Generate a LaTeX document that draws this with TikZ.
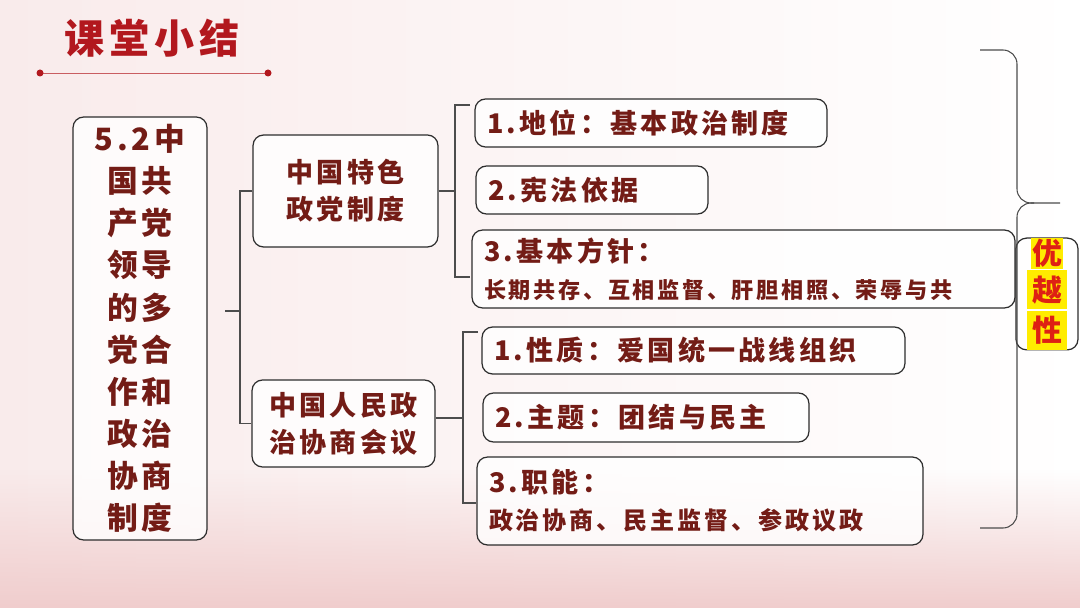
\documentclass[tikz,border=0pt]{standalone}
\usepackage{fontspec}
\newfontfamily\cjk[LetterSpace=12]{Noto Sans CJK SC}
\usetikzlibrary{positioning,fadings}
\definecolor{maroon}{RGB}{115,28,22}
\definecolor{crimson}{RGB}{178,24,30}
\definecolor{frame}{RGB}{45,45,45}
\definecolor{lemon}{RGB}{255,236,0}
\definecolor{scarlet}{RGB}{222,32,20}
\definecolor{blush}{RGB}{240,205,205}
\tikzset{
  box/.style={draw=frame,fill=white,fill opacity=0.8,text opacity=1,rounded corners=6pt,
    line width=0.7pt,text=maroon,font=\cjk\bfseries,inner sep=0pt,align=center},
  item/.style={box,text width=#1,align=left,inner xsep=0.24cm},
  brace/.style={draw=frame!85,line width=0.6pt},
  bigfont/.style={font=\fontsize{17.5}{24}\selectfont\cjk\bfseries},
  midfont/.style={font=\fontsize{15.4}{21}\selectfont\cjk\bfseries},
}
\newcommand\smallline[1]{{\fontsize{12.6}{16}\selectfont #1}}
\newcommand\hl[1]{\colorbox{lemon}{#1}}
\begin{document}
\begin{tikzpicture}[x=0.02cm,y=0.02cm]
  \useasboundingbox (0,0) rectangle (1080,-608);
  \shade[left color=blush!40,right color=white] (0,0) rectangle (1080,-608);
  \fill[blush,path fading=north] (0,-470) rectangle (1080,-608);
  % title
  \node[font=\fontsize{22.8}{26}\selectfont\cjk\bfseries,text=crimson] (title) at (152,-38) {课堂小结};
  \coordinate (ul) at (40,-73);
  \coordinate (ur) at (268,-73);
  \draw[crimson!70,line width=0.5pt] (ul) -- (ur);
  \fill[crimson] (ul) circle (3.5) (ur) circle (3.5);
  % left column
  \node[box,bigfont,minimum width=2.68cm,minimum height=8.46cm] (root) at (140,-328.5)
    {5.2中\\国共\\产党\\领导\\的多\\党合\\作和\\政治\\协商\\制度};
  \node[box,midfont,minimum width=3.7cm,minimum height=2.24cm] (party) at (345.5,-191) {中国特色\\政党制度};
  \node[box,midfont,minimum width=3.66cm,minimum height=1.74cm] (cppcc) at (343.5,-423.5) {中国人民政\\治协商会议};
  % first group
  \node[item=6.56cm,midfont,minimum height=0.96cm] (a1) at (651,-123) {1.地位：基本政治制度};
  \node[item=4.16cm,midfont,minimum height=0.96cm] (a2) at (592,-190) {2.宪法依据};
  \node[item=10.38cm,midfont,minimum height=1.56cm] (a3) at (743.5,-269)
    {3.基本方针：\\\smallline{长期共存、互相监督、肝胆相照、荣辱与共}};
  % second group
  \node[item=7.98cm,midfont,minimum height=0.94cm] (b1) at (693.5,-350.5) {1.性质：爱国统一战线组织};
  \node[item=6.04cm,midfont,minimum height=0.98cm] (b2) at (646,-417.5) {2.主题：团结与民主};
  \node[item=8.44cm,midfont,minimum height=1.76cm] (b3) at (700,-501)
    {3.职能：\\{\fontsize{13.7}{18}\selectfont 政治协商、民主监督、参政议政}};
  % merit
  \node[box,minimum width=1.24cm,minimum height=2.16cm,text=scarlet,
    font=\fontsize{17}{18.5}\selectfont\cjk\bfseries] (merit) at (1047,-294)
    {\setlength\fboxsep{0.6pt}\hl{优}\\\hl{越}\\\hl{性}};
  % brackets
  \coordinate (j1) at (225,-311);
  \coordinate (k1) at (240,-311);
  \draw[brace] (j1) -- (k1);
  \draw[brace] (party.west) -| (k1) |- (cppcc.west);
  \coordinate (k2) at (455,-191);
  \coordinate (t2) at (470,-105);
  \coordinate (s2) at (470,-277);
  \draw[brace] (party.east) -- (k2);
  \draw[brace] (t2) -| (k2) |- (s2);
  \coordinate (k3) at (463,-418);
  \coordinate (t3) at (478,-332);
  \coordinate (s3) at (476,-503);
  \draw[brace] (cppcc.east |- k3) -- (k3);
  \draw[brace] (t3) -| (k3) |- (s3);
  % big bracket
  \coordinate (bt) at (980,-50);
  \coordinate (bb) at (980,-528);
  \coordinate (tip) at (1060,-203);
  \coordinate (bend) at (1034,-203);
  \draw[brace,rounded corners=8] (bt) -- (1017,-50) -- (1017,-203) -- (tip);
  \draw[brace,rounded corners=8] (bend) -- (1017,-203) -- (1017,-528) -- (bb);
\end{tikzpicture}
\end{document}
